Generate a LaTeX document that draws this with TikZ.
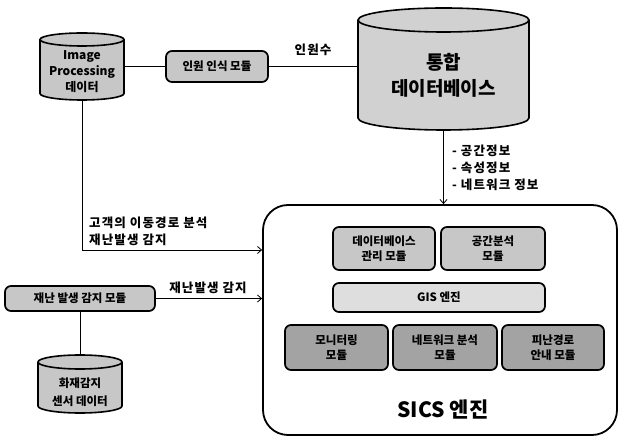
\documentclass[tikz,border=0pt]{standalone}
\usepackage{fontspec}
\setmainfont{Noto Sans CJK KR}
\usetikzlibrary{arrows.meta,calc}
\definecolor{gmid}{gray}{0.78}
\definecolor{glight}{gray}{0.87}
\definecolor{gdark}{gray}{0.64}
\definecolor{gdb}{gray}{0.82}
\tikzset{
  mod/.style={draw, line width=1.7pt, rounded corners=6pt, inner sep=0pt, align=center,
    font=\bfseries\fontsize{11.5}{15}\selectfont},
  geom/.style={inner sep=0pt, outer sep=0pt},
  conn/.style={line width=0.8pt},
  arr/.style={conn, -{Straight Barb[length=4pt,width=7pt]}},
  lbl/.style={inner sep=0pt, align=left, font=\bfseries\fontsize{12.5}{17}\selectfont\addfontfeatures{LetterSpace=9}},
}
\newcommand\cylshape[3]{%
  \path[fill=#3, draw, line width=1.6pt] let \p1=(#1.north west), \p2=(#1.south east), \n1={(\x2-\x1)/2} in
   (\x1,\y1-#2pt) -- (\x1,\y2+#2pt) arc[start angle=180, end angle=360, x radius=\n1, y radius=#2pt]
   -- (\x2,\y1-#2pt) arc[start angle=0, end angle=180, x radius=\n1, y radius=#2pt] -- cycle
   (\x1,\y1-#2pt) arc[start angle=180, end angle=360, x radius=\n1, y radius=#2pt];
}
\begin{document}
\begin{tikzpicture}[x=1pt,y=1pt]
\useasboundingbox (0,0) rectangle (621,436);
% geometry nodes
\node[geom, minimum width=84pt, minimum height=67pt] (ip) at (82,369.5) {};
\node[geom, minimum width=171pt, minimum height=122pt] (db) at (443.5,367) {};
\node[geom, minimum width=84pt, minimum height=58pt] (fire) at (80,52) {};
\cylshape{ip}{6.5}{gmid}
\cylshape{db}{12}{gdb}
\cylshape{fire}{7}{gmid}
\node[inner sep=0pt, align=center, font=\bfseries\fontsize{12}{16}\selectfont] (ipt) at (82,364) {Image\\Processing\\데이터};
\node[inner sep=0pt, align=center, font=\bfseries\fontsize{19}{26}\selectfont] (dbt) at (443.5,361) {통합\\데이터베이스};
\node[inner sep=0pt, align=center, font=\bfseries\fontsize{11.5}{18}\selectfont] (firet) at (80,44) {화재감지\\센서 데이터};
% modules
\node[mod, fill=gmid, minimum width=102pt, minimum height=31pt] (rec) at (217,369.5) {인원 인식 모듈};
\node[mod, fill=gmid, minimum width=150pt, minimum height=25pt] (dis) at (80,137.5) {재난 발생 감지 모듈};
% SICS engine
\node[draw, line width=1.8pt, rounded corners=25pt, minimum width=354pt, minimum height=230pt, inner sep=0pt] (sics) at (440,116) {};
\node[mod, fill=gmid, minimum width=102pt, minimum height=43pt] (dbm) at (384,187.5) {데이터베이스\\관리 모듈};
\node[mod, fill=gmid, minimum width=104pt, minimum height=43pt] (spa) at (493,187.5) {공간분석\\모듈};
\node[mod, fill=glight, minimum width=212pt, minimum height=29pt] (gis) at (439,138.5) {GIS 엔진};
\node[mod, fill=gdark, minimum width=103pt, minimum height=45pt] (mon) at (336.5,88.5) {모니터링\\모듈};
\node[mod, fill=gdark, minimum width=104pt, minimum height=45pt] (net) at (445,88.5) {네트워크 분석\\모듈};
\node[mod, fill=gdark, minimum width=102pt, minimum height=45pt] (eva) at (553,88.5) {피난경로\\안내 모듈};
\node[inner sep=0pt, font=\bfseries\fontsize{21}{25}\selectfont] (sicst) at (443,26) {SICS 엔진};
% connectors
\draw[conn] (ip.east) -- (rec.west);
\draw[conn] (rec.east) -- (rec.east -| db.west);
\node[lbl] (nlab) at (313,386) {인원수};
\draw[arr] (db.south) -- (db.south |- sics.north);
\node[lbl, anchor=west] (dblab) at (452,268.5) {- 공간정보\\- 속성정보\\- 네트워크 정보};
\coordinate (a1) at (sics.west |- 0,186);
\draw[arr] (ip.south) |- (a1);
\node[lbl, anchor=west] (iplab) at (89,204.5) {고객의 이동경로 분석\\재난발생 감지};
\draw[arr] (dis.east) -- (dis.east -| sics.west);
\node[lbl] (dislab) at (208,148) {재난발생 감지};
\draw[conn] (dis.south) -- (fire.north);
\end{tikzpicture}
\end{document}
